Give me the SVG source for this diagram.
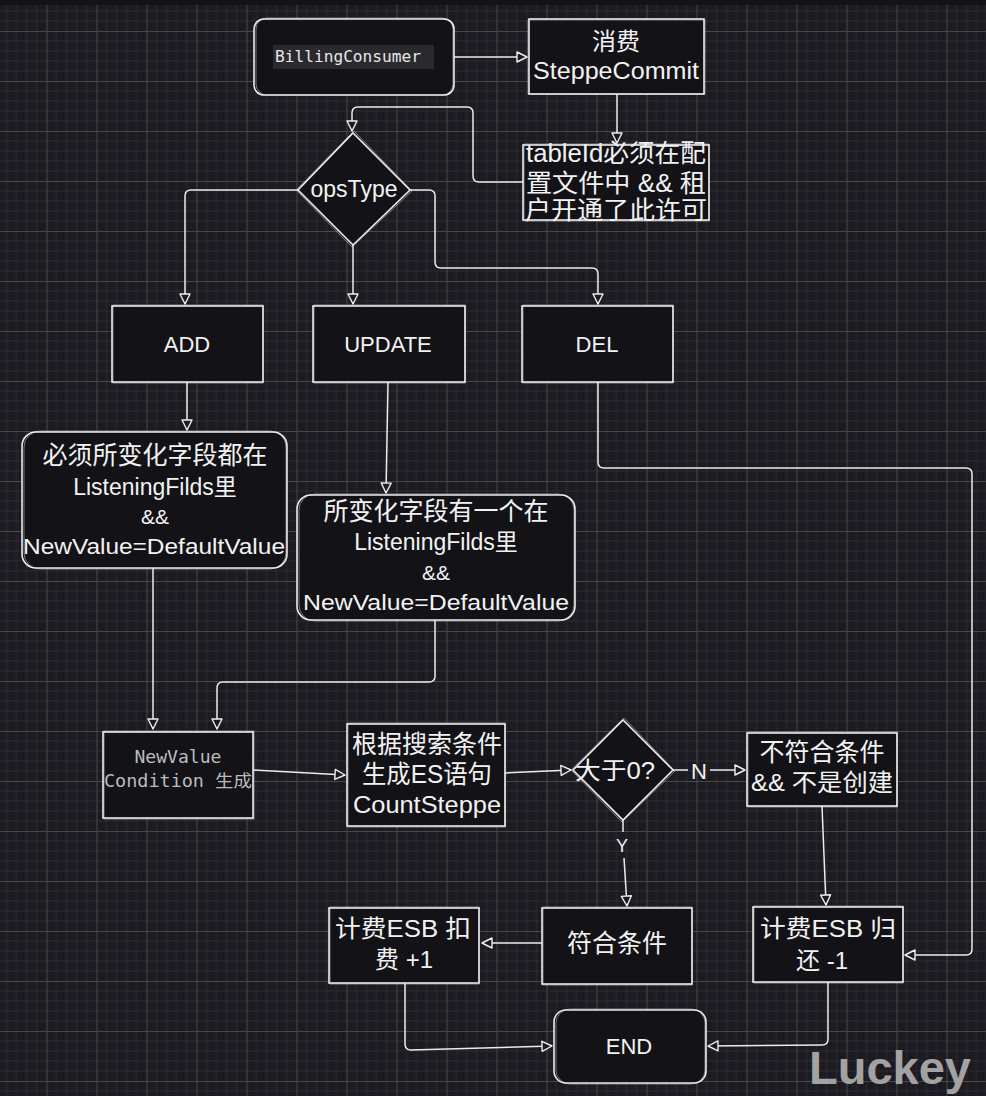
<svg xmlns="http://www.w3.org/2000/svg" width="986" height="1096" viewBox="0 0 986 1096">
<defs>
<pattern id="grid" patternUnits="userSpaceOnUse" x="46.5" y="31" width="50" height="50">
<rect width="50" height="50" fill="#1c1b21"/>
<path d="M10,0V50M20,0V50M30,0V50M40,0V50M0,10H50M0,20H50M0,30H50M0,40H50" stroke="#2a2a30" stroke-width="1"/>
<path d="M0.5,0V50M0,0.5H50" stroke="#4a4840" stroke-width="1"/>
</pattern>
<marker id="arr" markerUnits="userSpaceOnUse" markerWidth="14" markerHeight="14" refX="11" refY="6" orient="auto">
<path d="M1,1 L11,6 L1,11 Z" fill="#1c1b21" stroke="#eeeeee" stroke-width="1.4" stroke-linejoin="round"/>
</marker>
</defs>
<style>
.n{fill:#131217;stroke:#ececec;stroke-width:1.6}
.s{fill:none;stroke:#ececec;stroke-width:0.8;opacity:0.6}
.t{font-family:"Liberation Sans","Noto Sans CJK SC",sans-serif;fill:#f2f2f2;text-anchor:middle}
.m{font-family:"DejaVu Sans Mono","Liberation Mono","Noto Sans CJK SC",monospace;text-anchor:middle}
.c{fill:none;stroke:#ececec;stroke-width:1.5;marker-end:url(#arr)}
.l{fill:none;stroke:#ececec;stroke-width:1.5}
</style>
<rect width="986" height="1096" fill="url(#grid)"/>
<rect width="986" height="5" fill="#141318"/>

<g id="connectors">
<path class="c" d="M454,57 L527,57"/>
<path class="c" d="M617,94 L617,143"/>
<path class="c" d="M523,182 H479 Q473,182 473,176 V113 Q473,107 467,107 H358 Q352,107 352,113 V131"/>
<path class="c" d="M298,190 H191 Q185,190 185,196 V304"/>
<path class="c" d="M353,245 V304"/>
<path class="c" d="M410,190 H429 Q435,190 435,196 V262 Q435,268 441,268 H592 Q598,268 598,274 V304"/>
<path class="c" d="M187,382 V430"/>
<path class="c" d="M388,382 L386,493"/>
<path class="c" d="M598,382 V462 Q598,468 604,468 H966 Q972,468 972,474 V949 Q972,955 966,955 H905"/>
<path class="c" d="M153,568 V729"/>
<path class="c" d="M435,620 V676 Q435,682 429,682 H223 Q217,682 217,688 V729"/>
<path class="c" d="M253,770 L345,775"/>
<path class="c" d="M505,773 L571,770"/>
<path class="l" d="M673,770 L688,770"/>
<path class="c" d="M710,770 L745,770"/>
<text class="t" x="699" y="779" font-size="22">N</text>
<path class="l" d="M623,820 V832"/>
<path class="c" d="M624,858 L627,906"/>
<text class="t" x="622" y="852" font-size="18">Y</text>
<path class="c" d="M542,943 H482"/>
<path class="c" d="M822,806 L826,905"/>
<path class="c" d="M405,983 V1044 Q405,1050 411,1050 L552,1046"/>
<path class="c" d="M828,982 V1039 Q828,1045 822,1045 L708,1046"/>
</g>

<g id="billing-consumer">
<rect class="n" x="254" y="19" width="200" height="76" rx="10"/>
<rect class="s" x="256" y="18" width="197" height="77" rx="11"/>
<rect x="273" y="45" width="161" height="24" fill="#2a2a2e"/>
<text class="m" x="348" y="62" font-size="16" fill="#e6e6e6" textLength="146" lengthAdjust="spacingAndGlyphs">BillingConsumer</text>
</g>

<g id="consume">
<rect class="n" x="529" y="19" width="175" height="75"/>
<rect class="s" x="528" y="20" width="177" height="74"/>
<text class="t" x="616" y="50" font-size="24">消费</text>
<text class="t" x="616" y="79" font-size="23" textLength="166" lengthAdjust="spacingAndGlyphs">SteppeCommit</text>
</g>

<g id="tableid">
<rect class="n" x="523" y="145" width="186" height="75"/>
<rect class="s" x="524" y="144" width="185" height="77"/>
<text class="t" x="616" y="162" font-size="25" textLength="180" lengthAdjust="spacingAndGlyphs">tableId必须在配</text>
<text class="t" x="616" y="192" font-size="25" textLength="180" lengthAdjust="spacingAndGlyphs">置文件中 &amp;&amp; 租</text>
<text class="t" x="616" y="219" font-size="25" textLength="182" lengthAdjust="spacingAndGlyphs">户开通了此许可</text>
</g>

<g id="opstype">
<path class="n" d="M353,133 L410,190 L353,245 L298,190 Z"/>
<path class="s" d="M354,131 L412,191 L352,247 L296,190 Z"/>
<text class="t" x="354" y="197" font-size="23">opsType</text>
</g>

<g id="add">
<rect class="n" x="112" y="306" width="151" height="76"/>
<rect class="s" x="113" y="305" width="150" height="78"/>
<text class="t" x="187" y="352" font-size="22">ADD</text>
</g>

<g id="update">
<rect class="n" x="313" y="306" width="152" height="76"/>
<rect class="s" x="314" y="305" width="151" height="78"/>
<text class="t" x="388" y="352" font-size="22">UPDATE</text>
</g>

<g id="del">
<rect class="n" x="522" y="306" width="151" height="76"/>
<rect class="s" x="523" y="305" width="150" height="78"/>
<text class="t" x="597" y="352" font-size="22">DEL</text>
</g>

<g id="add-cond">
<rect class="n" x="22" y="432" width="265" height="136" rx="14"/>
<rect class="s" x="24" y="431" width="262" height="138" rx="16"/>
<text class="t" x="155" y="464" font-size="25">必须所变化字段都在</text>
<text class="t" x="155" y="495" font-size="23">ListeningFilds里</text>
<text class="t" x="155" y="524" font-size="21">&amp;&amp;</text>
<text class="t" x="154" y="554" font-size="22" textLength="262" lengthAdjust="spacingAndGlyphs">NewValue=DefaultValue</text>
</g>

<g id="update-cond">
<rect class="n" x="297" y="495" width="278" height="125" rx="14"/>
<rect class="s" x="299" y="494" width="275" height="127" rx="16"/>
<text class="t" x="436" y="520" font-size="25">所变化字段有一个在</text>
<text class="t" x="436" y="550" font-size="23">ListeningFilds里</text>
<text class="t" x="436" y="580" font-size="21">&amp;&amp;</text>
<text class="t" x="436" y="610" font-size="22" textLength="266" lengthAdjust="spacingAndGlyphs">NewValue=DefaultValue</text>
</g>

<g id="newvalue-condition">
<rect class="n" x="103" y="732" width="150" height="86"/>
<rect class="s" x="104" y="731" width="150" height="88"/>
<text class="m" x="178" y="763" font-size="18" fill="#bcbcbc" textLength="87" lengthAdjust="spacingAndGlyphs">NewValue</text>
<text class="m" x="178" y="787" font-size="17" fill="#bcbcbc" textLength="148" lengthAdjust="spacingAndGlyphs">Condition 生成</text>
</g>

<g id="build-es">
<rect class="n" x="347" y="724" width="158" height="102"/>
<rect class="s" x="348" y="723" width="157" height="104"/>
<text class="t" x="427" y="753" font-size="25">根据搜索条件</text>
<text class="t" x="427" y="783" font-size="25" textLength="130" lengthAdjust="spacingAndGlyphs">生成ES语句</text>
<text class="t" x="427" y="813" font-size="23" textLength="148" lengthAdjust="spacingAndGlyphs">CountSteppe</text>
</g>

<g id="gt-zero">
<path class="n" d="M623,720 L673,770 L623,820 L573,770 Z"/>
<path class="s" d="M624,718 L675,771 L622,822 L571,770 Z"/>
<text class="t" x="615" y="779" font-size="24" textLength="80" lengthAdjust="spacingAndGlyphs">大于0?</text>
</g>

<g id="not-match">
<rect class="n" x="747" y="733" width="150" height="73"/>
<rect class="s" x="748" y="732" width="149" height="75"/>
<text class="t" x="822" y="761" font-size="25">不符合条件</text>
<text class="t" x="822" y="791" font-size="24" textLength="142" lengthAdjust="spacingAndGlyphs">&amp;&amp; 不是创建</text>
</g>

<g id="match">
<rect class="n" x="542" y="908" width="150" height="76"/>
<rect class="s" x="543" y="907" width="149" height="78"/>
<text class="t" x="617" y="952" font-size="25">符合条件</text>
</g>

<g id="charge">
<rect class="n" x="329" y="908" width="150" height="75"/>
<rect class="s" x="330" y="907" width="149" height="77"/>
<text class="t" x="403" y="937" font-size="24" textLength="136" lengthAdjust="spacingAndGlyphs">计费ESB 扣</text>
<text class="t" x="404" y="968" font-size="24">费 +1</text>
</g>

<g id="refund">
<rect class="n" x="753" y="907" width="150" height="75"/>
<rect class="s" x="754" y="906" width="149" height="77"/>
<text class="t" x="828" y="937" font-size="24" textLength="136" lengthAdjust="spacingAndGlyphs">计费ESB 归</text>
<text class="t" x="822" y="969" font-size="24">还 -1</text>
</g>

<g id="end">
<rect class="n" x="554" y="1010" width="152" height="73" rx="12"/>
<rect class="s" x="556" y="1009" width="149" height="75" rx="14"/>
<text class="t" x="629" y="1054" font-size="22">END</text>
</g>

<text x="890" y="1084" font-family="Liberation Sans,Arial,sans-serif" font-weight="bold" font-size="47" fill="#a2a2a2" text-anchor="middle">Luckey</text>
</svg>
